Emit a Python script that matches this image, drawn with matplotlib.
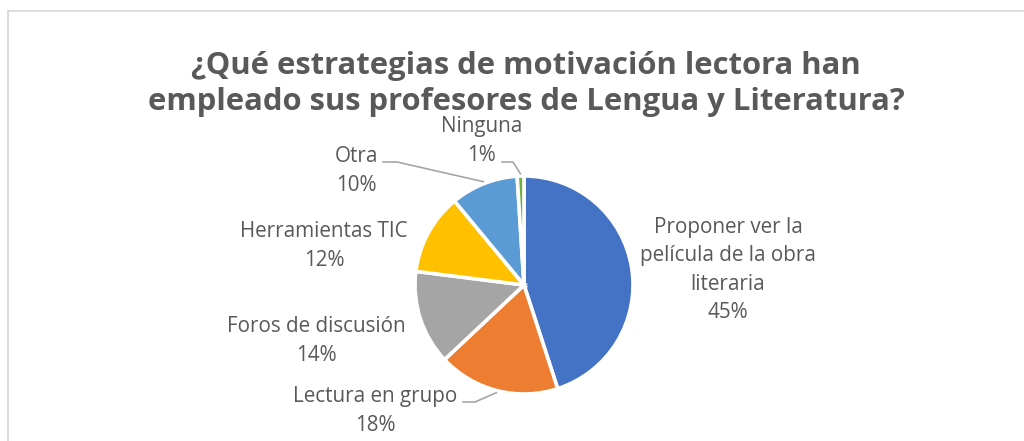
import matplotlib
matplotlib.use("Agg")
import matplotlib.pyplot as plt
import numpy as np

categories = ["Proponer ver la\npelícula de la obra\nliteraria", "Lectura en grupo",
              "Foros de discusión", "Herramientas TIC", "Otra", "Ninguna"]
values = [45, 18, 14, 12, 10, 1]
colors = ["#4472C4", "#ED7D31", "#A5A5A5", "#FFC000", "#5B9BD5", "#70AD47"]
title = "¿Qué estrategias de motivación lectora han\nempleado sus profesores de Lengua y Literatura?"

W, H = 1024, 441
fig = plt.figure(figsize=(W / 100, H / 100), dpi=100)
FONT = "Open Sans"
TXT = "#595959"

# border (top and left visible)
fig.add_artist(plt.Line2D([7.5 / W, 7.5 / W], [0, 1 - 10.5 / H], transform=fig.transFigure, color="#D9D9D9", lw=1.3))
fig.add_artist(plt.Line2D([7.5 / W, 1], [1 - 10.5 / H, 1 - 10.5 / H], transform=fig.transFigure, color="#D9D9D9", lw=1.3))

cx, cy, R = 524, 285, 109
ax = fig.add_axes([(cx - R) / W, (H - cy - R) / H, 2 * R / W, 2 * R / H])
wedges, _ = ax.pie(values, colors=colors, startangle=90, counterclock=False,
                   radius=1.0, wedgeprops=dict(edgecolor="white", linewidth=2.6))
ax.set_xlim(-1, 1)
ax.set_ylim(-1, 1)
ax.axis("off")

def px2d(px, py):
    return ((px - cx) / R, (cy - py) / R)

# label placement (pixel centers) and leaders
pcts = [f"{v}%" for v in values]
label_pos = [(728, 270), (375, 411), (316, 341), (324, 246), (356, 171), (482, 141)]
for i, (w, lab, p) in enumerate(zip(wedges, categories, pcts)):
    x, y = px2d(*label_pos[i])
    ax.text(x, y, f"{lab}\n{p}", ha="center", va="center", fontsize=14.9, color=TXT,
            family=FONT, linespacing=1.45, clip_on=False)

leader_pts = {4: [(383, 162), (397, 162)], 5: [(502, 162), (513, 162)], 1: [(463, 402), (475, 402)]}
for i, pts in leader_pts.items():
    w = wedges[i]
    ang = np.deg2rad((w.theta1 + w.theta2) / 2)
    r_end = 1.02
    end = (r_end * np.cos(ang), r_end * np.sin(ang))
    xs = [px2d(*p)[0] for p in pts] + [end[0]]
    ys = [px2d(*p)[1] for p in pts] + [end[1]]
    ax.plot(xs, ys, color="#A6A6A6", lw=1.2, clip_on=False)

fig.text(526 / W, 1 - 84 / H, title, ha="center", va="center", fontsize=22.3, fontweight="bold",
         color=TXT, family=FONT, linespacing=1.3)

fig.savefig("out.png", dpi=100, facecolor="white")
